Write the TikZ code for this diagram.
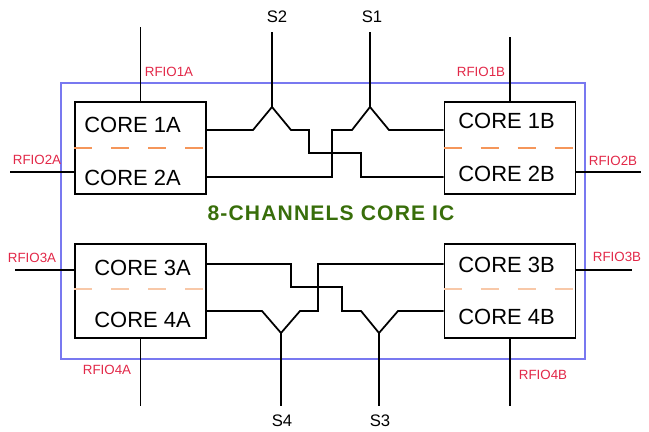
\documentclass[tikz,border=0pt]{standalone}
\usepackage{fontspec}
\setmainfont{Liberation Sans}
\newfontfamily\titlefont{Liberation Sans}[LetterSpace=5.5]
\definecolor{icblue}{RGB}{120,120,240}
\definecolor{rfred}{RGB}{226,40,72}
\definecolor{icgreen}{RGB}{56,110,10}
\definecolor{dashorange}{RGB}{245,150,90}
\definecolor{dashpeach}{RGB}{248,200,168}
\begin{document}
\begin{tikzpicture}[x=0.02cm, y=-0.02cm,
    corebox/.style={draw, line width=1pt, minimum width=2.62cm, inner sep=0pt},
    corelabel/.style={anchor=west, font=\fontsize{12.5}{14}\selectfont, inner sep=0pt},
    rflabel/.style={text=rfred, font=\fontsize{7.6}{9}\selectfont, inner sep=0pt},
    swlabel/.style={font=\fontsize{9.5}{11}\selectfont, inner sep=0pt},
    wire/.style={line width=1pt}]
    \useasboundingbox (0,0) rectangle (649,432);
    \draw[icblue, line width=.6pt] (61,83) rectangle (585,359);
    \node[corebox, minimum height=1.84cm] (boxA12) at (140.5,148) {};
    \node[corebox, minimum height=1.84cm] (boxB12) at (510,148) {};
    \node[corebox, minimum height=1.88cm] (boxA34) at (140.5,291) {};
    \node[corebox, minimum height=1.88cm] (boxB34) at (510,291) {};
    \draw[dashorange, line width=.7pt, dash pattern=on 0.36cm off 0.38cm] (boxA12.west |- 0,148) -- (boxA12.east |- 0,148);
    \draw[dashorange, line width=.7pt, dash pattern=on 0.36cm off 0.38cm] (boxB12.west |- 0,148) -- (boxB12.east |- 0,148);
    \draw[dashpeach, line width=.7pt, dash pattern=on 0.36cm off 0.38cm] (boxA34.west |- 0,289) -- (boxA34.east |- 0,289);
    \draw[dashpeach, line width=.7pt, dash pattern=on 0.36cm off 0.38cm] (boxB34.west |- 0,289) -- (boxB34.east |- 0,289);
    \node[corelabel] (core1A) at (84,125) {CORE 1A};
    \node[corelabel] (core2A) at (84,178) {CORE 2A};
    \node[corelabel] (core1B) at (458,121) {CORE 1B};
    \node[corelabel] (core2B) at (458,174) {CORE 2B};
    \node[corelabel] (core3A) at (94,268) {CORE 3A};
    \node[corelabel] (core4A) at (94,320) {CORE 4A};
    \node[corelabel] (core3B) at (458,265) {CORE 3B};
    \node[corelabel] (core4B) at (458,317) {CORE 4B};
    \node[text=icgreen, font=\titlefont\bfseries\fontsize{12}{14}\selectfont, inner sep=0pt] (title) at (331,213) {8-CHANNELS CORE IC};
    \node[swlabel] (S2) at (277,17) {S2};
    \node[swlabel] (S1) at (372,17) {S1};
    \node[swlabel] (S4) at (282,421) {S4};
    \node[swlabel] (S3) at (380,421) {S3};
    \coordinate (swS2) at (272,107);
    \coordinate (swS1) at (370,107);
    \coordinate (swS4) at (281,333);
    \coordinate (swS3) at (379,333);
    \draw[wire] (swS2) -- (272,32);
    \draw[wire] (swS1) -- (370,32);
    \draw[wire] (swS4) -- (281,406);
    \draw[wire] (swS3) -- (379,406);
    \draw[wire] (boxA12.east |- 0,130) -- (253,130) -- (swS2) -- (291,130) -- (309,130) -- (309,153) -- (361,153) -- (361,177) -- (boxB12.west |- 0,177);
    \draw[wire] (boxA12.east |- 0,177) -- (332,177) -- (332,130) -- (352,130) -- (swS1) -- (389,130) -- (boxB12.west |- 0,130);
    \draw[wire] (boxA34.east |- 0,264) -- (291,264) -- (291,287) -- (342,287) -- (342,311) -- (361,311) -- (swS3) -- (398,311) -- (boxB34.west |- 0,311);
    \draw[wire] (boxA34.east |- 0,311) -- (262,311) -- (swS4) -- (300,311) -- (318,311) -- (318,264) -- (boxB34.west |- 0,264);
    \draw[wire] (boxA12.north) -- (boxA12.north |- 0,27);
    \draw[wire] (boxB12.north) -- (boxB12.north |- 0,37);
    \draw[wire] (boxA12.west |- 0,172) -- (10,172);
    \draw[wire] (boxB12.east |- 0,172) -- (641,172);
    \draw[wire] (boxA34.west |- 0,270) -- (15,270);
    \draw[wire] (boxB34.east |- 0,270) -- (632,270);
    \draw[wire] (boxA34.south) -- (boxA34.south |- 0,406);
    \draw[wire] (boxB34.south) -- (boxB34.south |- 0,406);
    \node[rflabel] (rfio1A) at (169,72) {RFIO1A};
    \node[rflabel] (rfio1B) at (481,72) {RFIO1B};
    \node[rflabel] (rfio2A) at (37,160) {RFIO2A};
    \node[rflabel] (rfio2B) at (613,161) {RFIO2B};
    \node[rflabel] (rfio3A) at (32,258) {RFIO3A};
    \node[rflabel] (rfio3B) at (617,257) {RFIO3B};
    \node[rflabel] (rfio4A) at (107,370) {RFIO4A};
    \node[rflabel] (rfio4B) at (543,375) {RFIO4B};
\end{tikzpicture}
\end{document}
